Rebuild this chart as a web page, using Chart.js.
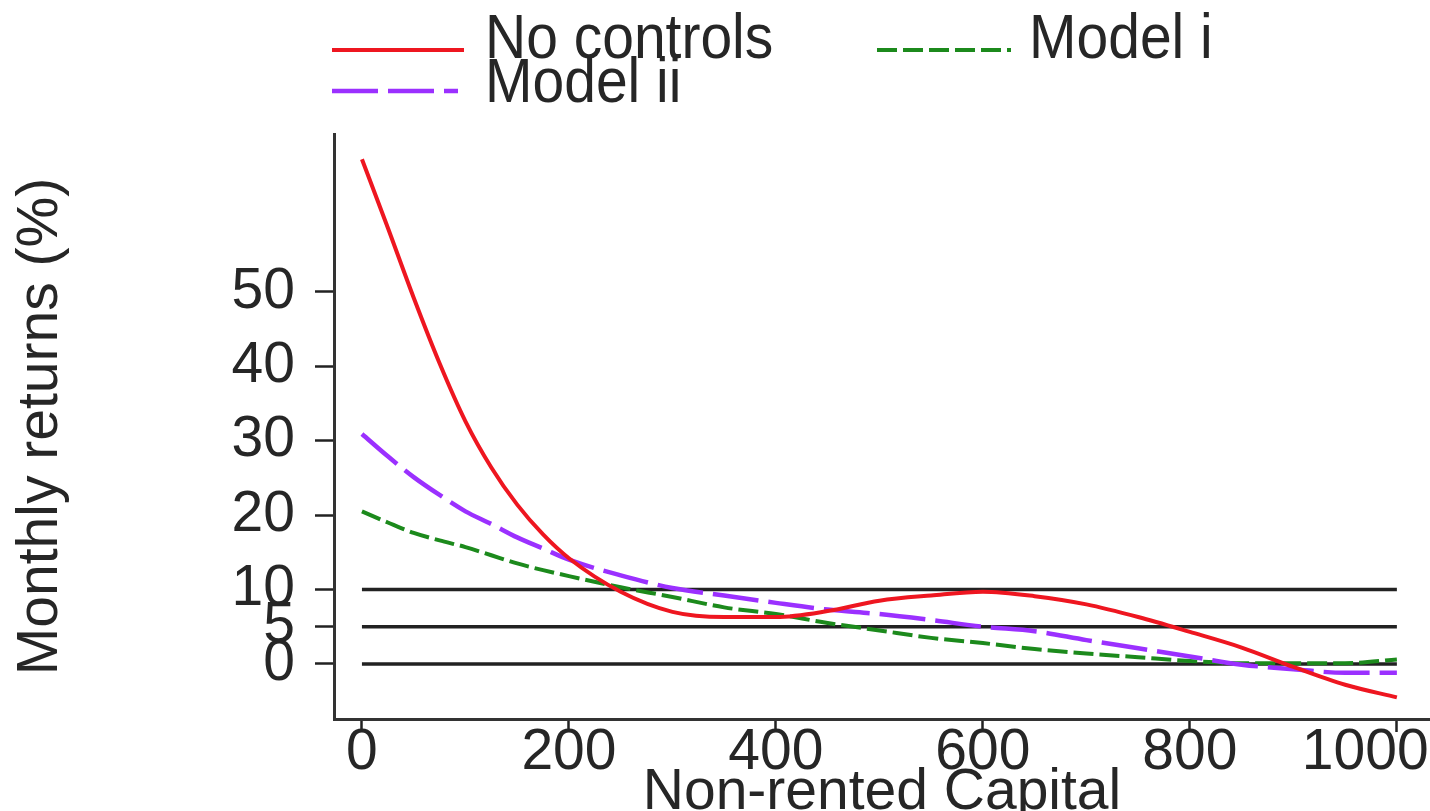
<!DOCTYPE html>
<html>
<head>
<meta charset="utf-8">
<script src="https://cdn.jsdelivr.net/npm/chart.js@4.4.1/dist/chart.umd.min.js"></script>
<style>
  html, body { margin: 0; padding: 0; background: #fff; overflow: hidden; }
  canvas { display: block; }
</style>
</head>
<body>
<canvas id="returnsChart" width="1430" height="811"></canvas>
<script>
// values
const capital = [0, 25, 50, 75, 100, 125, 150, 175, 200, 250, 300, 350, 400, 450, 500, 550, 600, 650, 700, 750, 800, 850, 900, 950, 1000];
const noControls = [67.8, 58.6, 49.2, 40.4, 32.6, 26.4, 21.4, 17.4, 14.2, 9.7, 7.0, 6.3, 6.3, 7.1, 8.5, 9.2, 9.7, 9.1, 8.0, 6.3, 4.3, 2.2, -0.4, -2.8, -4.5];
const modelI = [20.5, 19.0, 17.6, 16.6, 15.7, 14.6, 13.5, 12.6, 11.8, 10.3, 9.0, 7.6, 6.7, 5.5, 4.5, 3.5, 2.8, 2.0, 1.4, 0.9, 0.4, 0.1, 0.1, 0.1, 0.6];
const modelII = [30.9, 27.9, 25.1, 22.7, 20.5, 18.8, 17.0, 15.5, 14.0, 11.9, 10.2, 9.2, 8.2, 7.3, 6.7, 5.9, 5.0, 4.4, 3.2, 2.1, 1.0, -0.1, -0.7, -1.2, -1.2];
const seriesNames = ["No controls", "Model i", "Model ii"];

const refLevels = [0, 5, 10];
const refSpan = [0, 1000];

const xTicks = [0, 200, 400, 600, 800, 1000];
const yTicks = [0, 5, 10, 20, 30, 40, 50];

const fontFamily = '"Liberation Sans", Arial, sans-serif';
const textColor = "#262626";

const pts = ys => capital.map((x, i) => ({ x: x, y: ys[i] }));

// legend placement (R put it above the plot, rows overlapping)
const legendSpots = [
  { x0: 332, x1: 464, y: 50, tx: 485, ty: 58 },
  { x0: 877, x1: 1011, y: 50, tx: 1029, ty: 58 },
  { x0: 332, x1: 458, y: 91, tx: 485, ty: 102 }
];

const seriesLegend = {
  id: "seriesLegend",
  afterDraw(chart) {
    const ctx = chart.ctx;
    ctx.save();
    chart.data.datasets.forEach((ds, i) => {
      const spot = legendSpots[i];
      if (!spot) return;
      ctx.strokeStyle = ds.borderColor;
      ctx.lineWidth = ds.borderWidth;
      ctx.setLineDash(ds.borderDash || []);
      ctx.beginPath();
      ctx.moveTo(spot.x0, spot.y);
      ctx.lineTo(spot.x1, spot.y);
      ctx.stroke();
      ctx.setLineDash([]);
      ctx.fillStyle = textColor;
      ctx.font = "57px " + fontFamily;
      ctx.textBaseline = "alphabetic";
      ctx.textAlign = "left";
      ctx.save();
      ctx.translate(spot.tx, spot.ty);
      ctx.scale(1, 1.1);
      ctx.fillText(ds.label, 0, 0);
      ctx.restore();
    });
    ctx.restore();
  }
};

const datasets = [
  { label: seriesNames[0], data: pts(noControls), borderColor: "#ee1620", borderWidth: 4, order: 1 },
  { label: seriesNames[1], data: pts(modelI), borderColor: "#1c8a1c", borderWidth: 4, borderDash: [20, 6], order: 3 },
  { label: seriesNames[2], data: pts(modelII), borderColor: "#9b30ff", borderWidth: 4.5, borderDash: [46, 10], order: 2 }
];
refLevels.forEach(level => {
  datasets.push({
    label: "ref " + level,
    data: refSpan.map(x => ({ x: x, y: level })),
    borderColor: "#222",
    borderWidth: 3.5,
    order: 10
  });
});

Chart.defaults.font.family = fontFamily;

new Chart(document.getElementById("returnsChart"), {
  type: "line",
  data: { datasets: datasets },
  options: {
    responsive: false,
    animation: false,
    layout: { padding: { top: 134, left: 0, right: 0, bottom: 0 } },
    elements: {
      point: { radius: 0 },
      line: { tension: 0.4, cubicInterpolationMode: "monotone", fill: false }
    },
    plugins: { legend: { display: false }, tooltip: { enabled: false } },
    scales: {
      x: {
        type: "linear",
        min: -27,
        max: 1032,
        afterBuildTicks: s => { s.ticks = xTicks.map(v => ({ value: v })); },
        afterFit: s => { s.height = 92; s.paddingLeft = 0; s.paddingRight = 0; },
        grid: { drawOnChartArea: false, drawTicks: true, tickLength: 13, tickColor: "#222", tickWidth: 2.5 },
        border: { display: true, color: "#333", width: 3 },
        ticks: {
          autoSkip: false,
          maxRotation: 0,
          padding: -13,
          color: textColor,
          font: { size: 57 },
          // the 1000 label sits left of its tick in the original
          callback: v => (v === 1000 ? "1000    " : String(v))
        },
        title: {
          display: true,
          text: "Non-rented Capital",
          color: textColor,
          font: { size: 57 },
          padding: { top: 0, bottom: -16 }
        }
      },
      y: {
        type: "linear",
        min: -7.4,
        max: 71.2,
        afterBuildTicks: s => { s.ticks = yTicks.map(v => ({ value: v })); },
        afterFit: s => { s.width = 334; s.paddingTop = 0; s.paddingBottom = 0; },
        grid: { drawOnChartArea: false, drawTicks: true, tickLength: 19, tickColor: "#222", tickWidth: 2.5 },
        border: { display: true, color: "#333", width: 3 },
        ticks: {
          autoSkip: false,
          padding: 20,
          color: textColor,
          font: { size: 57 }
        },
        title: {
          display: true,
          text: "Monthly returns (%)",
          color: textColor,
          font: { size: 57 },
          padding: { top: 7, bottom: 0 }
        }
      }
    }
  },
  plugins: [seriesLegend]
});
</script>
</body>
</html>
